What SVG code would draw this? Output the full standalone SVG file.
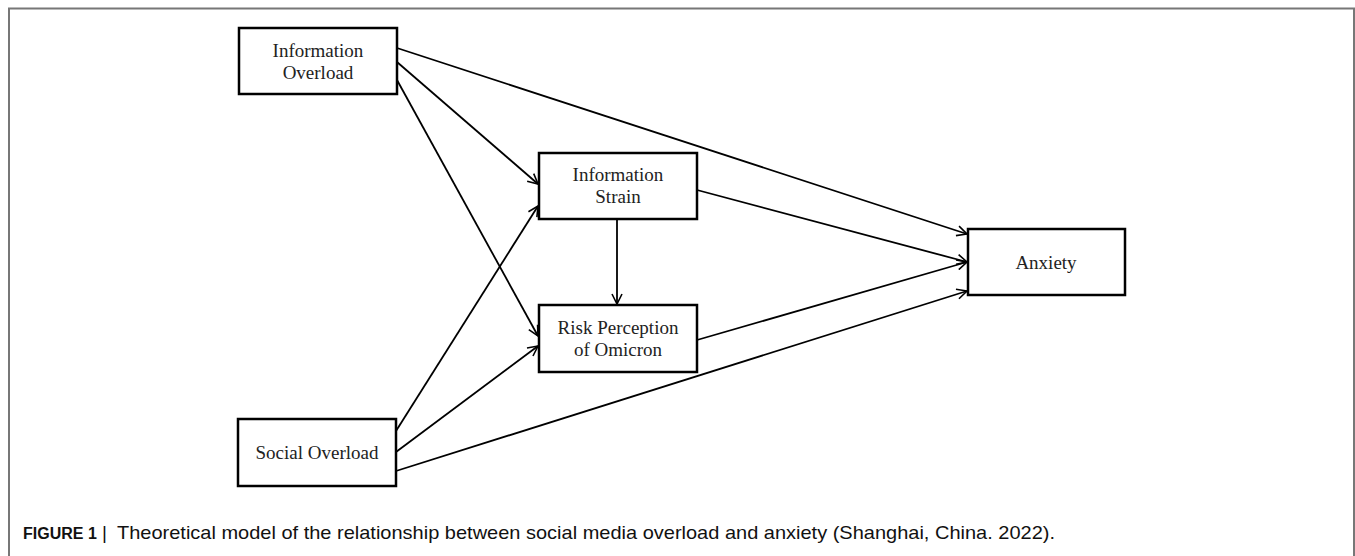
<svg xmlns="http://www.w3.org/2000/svg" width="1355" height="556" viewBox="0 0 1355 556">
<style>
.box{fill:#fff;stroke:#000;stroke-width:2.5}
.lbl{font-family:"Liberation Serif","Times New Roman",serif;font-size:19px;fill:#222;text-anchor:middle}
.con{fill:none;stroke:#000;stroke-width:1.8}
.cap{font-family:"Liberation Sans",Arial,sans-serif;font-size:19px;fill:#111}
</style>
<defs>
<marker id="arr" viewBox="0 0 12 12" refX="11" refY="6" markerWidth="12" markerHeight="12" markerUnits="userSpaceOnUse" orient="auto">
<path d="M1,1 L11,6 L1,11" fill="none" stroke="#000" stroke-width="1.6"/>
</marker>
</defs>
<rect x="9" y="8.5" width="1345" height="560" fill="#fff" stroke="#777" stroke-width="2"/>
<g id="connectors">
<line class="con" x1="397" y1="48" x2="967" y2="234" marker-end="url(#arr)"/>
<line class="con" x1="397" y1="62" x2="538" y2="184" marker-end="url(#arr)"/>
<line class="con" x1="397" y1="80" x2="538" y2="336" marker-end="url(#arr)"/>
<line class="con" x1="396" y1="431" x2="538" y2="206" marker-end="url(#arr)"/>
<line class="con" x1="396" y1="452" x2="538" y2="346" marker-end="url(#arr)"/>
<line class="con" x1="396" y1="471" x2="967" y2="291" marker-end="url(#arr)"/>
<line class="con" x1="697" y1="190" x2="967" y2="262" marker-end="url(#arr)"/>
<line class="con" x1="697" y1="340" x2="967" y2="262" marker-end="url(#arr)"/>
<line class="con" x1="617" y1="219" x2="617" y2="304" marker-end="url(#arr)"/>
</g>
<g id="info-overload">
<rect class="box" x="239" y="28" width="158" height="66"/>
<text class="lbl" x="318" y="57">Information</text>
<text class="lbl" x="318" y="79">Overload</text>
</g>
<g id="info-strain">
<rect class="box" x="539" y="153" width="158" height="66"/>
<text class="lbl" x="618" y="181">Information</text>
<text class="lbl" x="618" y="203">Strain</text>
</g>
<g id="risk-perception">
<rect class="box" x="539" y="305" width="158" height="67"/>
<text class="lbl" x="618" y="334">Risk Perception</text>
<text class="lbl" x="618" y="356">of Omicron</text>
</g>
<g id="social-overload">
<rect class="box" x="238" y="419" width="158" height="67"/>
<text class="lbl" x="317" y="459">Social Overload</text>
</g>
<g id="anxiety">
<rect class="box" x="968" y="229" width="157" height="66"/>
<text class="lbl" x="1046" y="269">Anxiety</text>
</g>
<text class="cap" x="23" y="539"><tspan font-size="16" font-weight="bold">FIGURE 1</tspan> | <tspan x="117" textLength="938" lengthAdjust="spacingAndGlyphs">Theoretical model of the relationship between social media overload and anxiety (Shanghai, China. 2022).</tspan></text>
</svg>
